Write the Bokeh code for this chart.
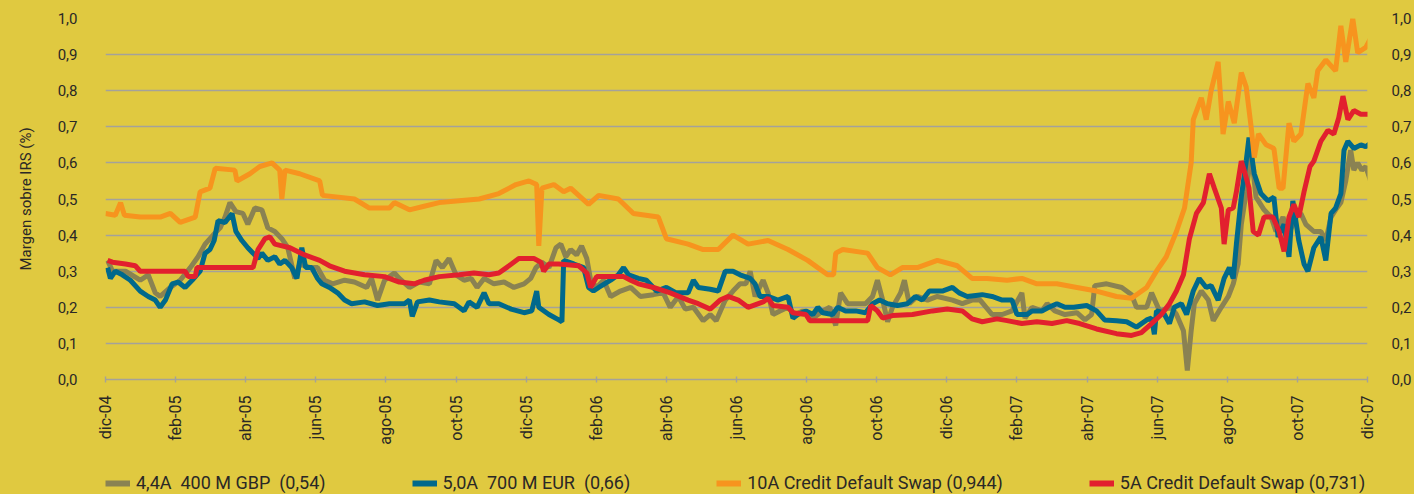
import math
from bokeh.plotting import figure
from bokeh.layouts import column
from bokeh.models import (Range1d, FixedTicker, CustomJSTickFormatter, LinearAxis,
                          Legend, LegendItem)
from bokeh.embed import file_html
from bokeh.resources import INLINE

# ---------------- data (x = months since dic-04) ----------------
month_ticks = [0, 2, 4, 6, 8, 10, 12, 14, 16, 18, 20, 22, 24, 26, 28, 30, 32, 34, 36]
month_labels = ["dic-04", "feb-05", "abr-05", "jun-05", "ago-05", "oct-05", "dic-05",
                "feb-06", "abr-06", "jun-06", "ago-06", "oct-06", "dic-06", "feb-07",
                "abr-07", "jun-07", "ago-07", "oct-07", "dic-07"]
y_ticks = [0.0, 0.1, 0.2, 0.3, 0.4, 0.5, 0.6, 0.7, 0.8, 0.9, 1.0]

series_labels = ["4,4A  400 M GBP  (0,54)", "5,0A  700 M EUR  (0,66)",
                 "10A Credit Default Swap (0,944)", "5A Credit Default Swap (0,731)"]

gbp_m = [0.06, 0.20, 0.57, 0.99, 1.22, 1.42, 1.56, 1.85, 2.13, 2.42, 2.64, 2.84, 3.07, 3.27,
         3.41, 3.55, 3.72, 3.92, 4.06, 4.26, 4.46, 4.63, 4.83, 5.03, 5.20, 5.40, 5.54, 5.83,
         6.05, 6.25, 6.48, 6.82, 7.10, 7.45, 7.59, 7.76, 7.96, 8.24, 8.38, 8.67, 8.95, 9.24,
         9.43, 9.61, 9.80, 10.00, 10.23, 10.43, 10.60, 10.80, 11.08, 11.37, 11.65, 11.94,
         12.13, 12.28, 12.45, 12.65, 12.85, 12.99, 13.13, 13.27, 13.44, 13.58, 13.73, 13.84,
         14.01, 14.21, 14.41, 14.69, 14.98, 15.26, 15.63, 15.91, 16.11, 16.34, 16.54, 16.77,
         17.05, 17.25, 17.42, 17.68, 17.90, 18.10, 18.27, 18.39, 18.53, 18.76, 18.90, 19.04,
         19.24, 19.47, 19.67, 19.89, 20.18, 20.46, 20.66, 20.83, 20.97, 21.17, 21.40, 21.68,
         21.88, 22.02, 22.17, 22.31, 22.45, 22.68, 22.79, 22.93, 23.16, 23.45, 23.73, 24.16,
         24.44, 24.72, 24.95, 25.29, 25.58, 25.86, 26.14, 26.23, 26.43, 26.71, 26.86, 27.08,
         27.37, 27.71, 27.94, 28.13, 28.22, 28.56, 28.99, 29.27, 29.41, 29.70, 29.84, 30.07,
         30.41, 30.55, 30.75, 30.86, 30.97, 31.06, 31.26, 31.46, 31.60, 31.83, 32.03, 32.17,
         32.31, 32.40, 32.54, 32.68, 32.82, 33.05, 33.25, 33.39, 33.59, 33.76, 33.96, 34.10,
         34.24, 34.47, 34.67, 34.81, 34.96, 35.09, 35.24, 35.38, 35.52, 35.61, 35.72, 35.84,
         35.95, 36.09]
gbp_v = [0.33, 0.30, 0.30, 0.275, 0.29, 0.24, 0.23, 0.255, 0.275, 0.31, 0.34, 0.375, 0.40, 0.42,
         0.45, 0.49, 0.465, 0.46, 0.43, 0.475, 0.47, 0.42, 0.41, 0.39, 0.365, 0.28, 0.32, 0.31,
         0.31, 0.275, 0.265, 0.275, 0.27, 0.255, 0.28, 0.22, 0.275, 0.295, 0.28, 0.255, 0.27, 0.265,
         0.33, 0.31, 0.335, 0.29, 0.275, 0.28, 0.255, 0.28, 0.265, 0.27, 0.255, 0.265,
         0.28, 0.31, 0.325, 0.31, 0.365, 0.375, 0.34, 0.36, 0.345, 0.37, 0.335, 0.275,
         0.255, 0.275, 0.23, 0.245, 0.255, 0.23, 0.235, 0.24, 0.20, 0.23, 0.195, 0.20,
         0.163, 0.18, 0.163, 0.22, 0.245, 0.265, 0.265, 0.30, 0.23, 0.275, 0.24, 0.18,
         0.19, 0.20, 0.18, 0.19, 0.17, 0.19, 0.20, 0.15, 0.24, 0.21, 0.21, 0.21,
         0.23, 0.275, 0.22, 0.16, 0.20, 0.24, 0.275, 0.21, 0.23, 0.22, 0.23, 0.22,
         0.21, 0.22, 0.22, 0.18, 0.18, 0.19, 0.24, 0.17, 0.20, 0.19, 0.21, 0.19,
         0.18, 0.185, 0.165, 0.18, 0.26, 0.265, 0.255, 0.235, 0.20, 0.20, 0.24, 0.19,
         0.20, 0.18, 0.135, 0.025, 0.135, 0.21, 0.245, 0.22, 0.163, 0.20, 0.23, 0.265,
         0.32, 0.43, 0.52, 0.63, 0.505, 0.47, 0.45, 0.41, 0.45, 0.405, 0.45, 0.46,
         0.43, 0.41, 0.41, 0.385, 0.45, 0.47, 0.49, 0.55, 0.635, 0.58, 0.60, 0.58,
         0.59, 0.55]

eur_m = [0.06, 0.14, 0.28, 0.48, 0.71, 0.99, 1.22, 1.42, 1.56, 1.71, 1.90, 2.07, 2.27, 2.47,
         2.70, 2.84, 2.98, 3.10, 3.21, 3.41, 3.61, 3.72, 3.89, 4.06, 4.21, 4.35, 4.46, 4.63,
         4.83, 4.97, 5.12, 5.31, 5.46, 5.60, 5.71, 5.88, 6.05, 6.17, 6.39, 6.62, 6.82, 7.02,
         7.39, 7.76, 8.10, 8.53, 8.67, 8.75, 8.90, 9.24, 9.52, 9.95, 10.23, 10.37, 10.60,
         10.80, 10.94, 11.22, 11.57, 11.94, 12.16, 12.30, 12.36, 12.65, 12.93, 13.02, 13.07,
         13.36, 13.64, 13.78, 13.92, 14.07, 14.41, 14.63, 14.78, 14.92, 15.20, 15.43, 15.72,
         16.00, 16.28, 16.62, 16.77, 16.91, 17.25, 17.48, 17.68, 17.90, 18.10, 18.39, 18.53,
         18.67, 18.90, 19.18, 19.47, 19.61, 19.75, 19.98, 20.18, 20.32, 20.46, 20.74, 20.89,
         21.11, 21.40, 21.68, 21.88, 22.08, 22.31, 22.59, 22.88, 23.10, 23.30, 23.50, 23.87,
         24.16, 24.35, 24.58, 25.01, 25.29, 25.58, 25.86, 26.00, 26.29, 26.43, 26.71, 26.91,
         27.14, 27.37, 27.62, 27.99, 28.27, 28.50, 28.84, 29.13, 29.41, 29.70, 29.84, 29.92,
         29.98, 30.18, 30.35, 30.49, 30.69, 30.84, 31.03, 31.20, 31.40, 31.54, 31.74, 31.91,
         32.06, 32.17, 32.26, 32.40, 32.54, 32.62, 32.77, 32.96, 33.16, 33.33, 33.45, 33.62,
         33.76, 33.87, 34.04, 34.19, 34.30, 34.47, 34.67, 34.81, 34.96, 35.09, 35.24, 35.33,
         35.44, 35.61, 35.81, 35.95, 36.09]
eur_v = [0.31, 0.28, 0.30, 0.29, 0.275, 0.245, 0.23, 0.22, 0.20, 0.22, 0.265, 0.27, 0.255, 0.275,
         0.30, 0.35, 0.36, 0.385, 0.44, 0.435, 0.46, 0.41, 0.385, 0.365, 0.35, 0.335, 0.35, 0.33,
         0.34, 0.32, 0.33, 0.31, 0.28, 0.365, 0.31, 0.31, 0.28, 0.265, 0.255, 0.24, 0.22, 0.21,
         0.215, 0.205, 0.21, 0.21, 0.22, 0.175, 0.215, 0.22, 0.215, 0.21, 0.19, 0.215, 0.20,
         0.24, 0.21, 0.21, 0.195, 0.185, 0.19, 0.245, 0.20, 0.18, 0.165, 0.16, 0.33,
         0.32, 0.31, 0.255, 0.245, 0.255, 0.275, 0.29, 0.31, 0.29, 0.28, 0.275, 0.245,
         0.255, 0.24, 0.24, 0.275, 0.255, 0.25, 0.245, 0.30, 0.30, 0.29, 0.28, 0.265,
         0.23, 0.23, 0.22, 0.23, 0.17, 0.18, 0.19, 0.18, 0.20, 0.185, 0.18, 0.20,
         0.19, 0.19, 0.185, 0.21, 0.22, 0.21, 0.205, 0.21, 0.23, 0.22, 0.245, 0.245,
         0.255, 0.24, 0.23, 0.235, 0.23, 0.22, 0.22, 0.18, 0.18, 0.19, 0.19, 0.20,
         0.21, 0.20, 0.20, 0.205, 0.19, 0.165, 0.163, 0.16, 0.145, 0.165, 0.17, 0.125,
         0.19, 0.185, 0.155, 0.20, 0.21, 0.18, 0.245, 0.28, 0.255, 0.26, 0.22, 0.28,
         0.31, 0.28, 0.375, 0.505, 0.605, 0.67, 0.57, 0.515, 0.495, 0.505, 0.395, 0.43,
         0.34, 0.495, 0.385, 0.32, 0.30, 0.365, 0.395, 0.33, 0.46, 0.475, 0.515, 0.635,
         0.66, 0.64, 0.65, 0.645, 0.655]

cds10_m = [0.00, 0.28, 0.43, 0.54, 0.99, 1.56, 1.85, 2.13, 2.56, 2.70, 2.98, 3.13, 3.69, 3.75,
           4.12, 4.40, 4.75, 4.97, 5.03, 5.12, 5.54, 6.11, 6.19, 7.10, 7.53, 8.10, 8.24, 8.67,
           9.09, 9.52, 10.66, 11.22, 11.71, 12.08, 12.30, 12.36, 12.45, 12.79, 13.07, 13.27,
           13.78, 14.07, 14.63, 15.06, 15.77, 16.00, 16.62, 17.05, 17.48, 17.90, 18.33, 18.90,
           19.47, 20.03, 20.60, 20.77, 20.83, 21.03, 21.74, 22.02, 22.39, 22.73, 23.16, 23.73,
           24.30, 24.72, 25.15, 25.72, 26.14, 26.57, 27.14, 27.71, 28.27, 28.84, 29.27, 29.70,
           29.98, 30.26, 30.55, 30.78, 30.97, 31.03, 31.26, 31.40, 31.54, 31.74, 31.88, 32.03,
           32.20, 32.40, 32.54, 32.68, 32.77, 32.89, 33.11, 33.33, 33.48, 33.59, 33.76, 33.90,
           34.10, 34.30, 34.47, 34.58, 34.81, 35.09, 35.24, 35.38, 35.58, 35.72, 35.95, 36.09]
cds10_v = [0.46, 0.455, 0.49, 0.455, 0.45, 0.45, 0.46, 0.435, 0.45, 0.52, 0.53, 0.585, 0.58, 0.55,
           0.57, 0.59, 0.60, 0.58, 0.50, 0.58, 0.57, 0.55, 0.51, 0.50, 0.475, 0.475, 0.49, 0.47,
           0.48, 0.49, 0.50, 0.515, 0.54, 0.55, 0.54, 0.37, 0.53, 0.54, 0.52, 0.53,
           0.485, 0.51, 0.50, 0.46, 0.45, 0.39, 0.375, 0.36, 0.36, 0.40, 0.375, 0.385,
           0.36, 0.33, 0.29, 0.29, 0.35, 0.36, 0.35, 0.31, 0.29, 0.31, 0.31, 0.33,
           0.315, 0.28, 0.28, 0.275, 0.28, 0.265, 0.265, 0.255, 0.245, 0.23, 0.225, 0.255,
           0.30, 0.34, 0.41, 0.475, 0.60, 0.72, 0.78, 0.72, 0.80, 0.88, 0.68, 0.77,
           0.71, 0.85, 0.81, 0.70, 0.615, 0.68, 0.65, 0.64, 0.53, 0.53, 0.71, 0.66,
           0.68, 0.82, 0.78, 0.855, 0.885, 0.855, 0.98, 0.88, 1.0, 0.905, 0.92, 0.945]

cds5_m = [0.06, 0.20, 0.57, 0.85, 0.99, 2.27, 2.36, 2.56, 2.61, 4.21, 4.35, 4.55, 4.69, 4.83,
          5.26, 5.68, 6.11, 6.39, 6.82, 7.39, 7.96, 8.38, 8.81, 9.09, 9.52, 10.09, 10.51,
          10.94, 11.22, 11.51, 11.79, 12.22, 12.42, 12.50, 12.65, 12.93, 13.50, 13.73, 13.84,
          14.01, 14.78, 14.98, 15.20, 15.63, 16.11, 16.62, 16.91, 17.25, 17.53, 17.76, 18.05,
          18.33, 18.76, 18.90, 19.04, 19.47, 19.61, 19.98, 20.09, 21.74, 21.83, 22.02, 22.17,
          22.45, 23.02, 23.59, 24.01, 24.44, 24.72, 25.01, 25.43, 25.72, 26.14, 26.57, 27.00,
          27.42, 27.79, 28.27, 28.84, 29.27, 29.55, 29.84, 30.12, 30.35, 30.55, 30.75, 30.92,
          31.12, 31.32, 31.49, 31.63, 31.83, 31.91, 32.03, 32.17, 32.26, 32.40, 32.48, 32.62,
          32.74, 32.89, 33.05, 33.30, 33.48, 33.62, 33.76, 33.90, 34.04, 34.19, 34.36, 34.47,
          34.67, 34.87, 35.04, 35.18, 35.30, 35.44, 35.61, 35.81, 36.09]
cds5_v = [0.33, 0.325, 0.32, 0.315, 0.30, 0.30, 0.285, 0.285, 0.31, 0.31, 0.36, 0.39, 0.395, 0.375,
          0.365, 0.345, 0.33, 0.315, 0.30, 0.29, 0.285, 0.27, 0.265, 0.275, 0.285, 0.29, 0.295,
          0.29, 0.295, 0.315, 0.335, 0.335, 0.325, 0.30, 0.32, 0.32, 0.315, 0.295, 0.255,
          0.285, 0.285, 0.275, 0.265, 0.255, 0.24, 0.22, 0.21, 0.195, 0.22, 0.23, 0.22,
          0.20, 0.215, 0.225, 0.205, 0.20, 0.185, 0.18, 0.163, 0.163, 0.205, 0.19, 0.17,
          0.177, 0.18, 0.19, 0.195, 0.19, 0.168, 0.16, 0.168, 0.163, 0.155, 0.16, 0.155,
          0.163, 0.155, 0.14, 0.127, 0.122, 0.13, 0.155, 0.18, 0.21, 0.245, 0.29, 0.39,
          0.46, 0.49, 0.57, 0.53, 0.475, 0.375, 0.47, 0.475, 0.52, 0.605, 0.58, 0.53,
          0.41, 0.40, 0.45, 0.45, 0.41, 0.355, 0.45, 0.485, 0.45, 0.52, 0.59, 0.605,
          0.66, 0.69, 0.68, 0.725, 0.785, 0.72, 0.745, 0.735, 0.735]

# ---------------- styling ----------------
BG = "#E0C940"
GRID = "#A4A29A"
TEXT = "#2A2826"
FONT = "Roboto"
COLORS = ["#8A8252", "#00698C", "#F7941E", "#E2202E"]
SERIES = [(gbp_m, gbp_v), (eur_m, eur_v), (cds10_m, cds10_v), (cds5_m, cds5_v)]

p = figure(width=1414, height=470, output_backend="svg", toolbar_location=None, tools="",
           x_range=Range1d(0, 36), y_range=Range1d(0, 1.0),
           min_border_left=105, min_border_right=42, min_border_top=18, min_border_bottom=91,
           background_fill_color=BG, border_fill_color=BG, outline_line_color=None)

for (xs, ys), c in zip(SERIES, COLORS):
    p.line(xs, ys, line_color=c, line_width=5)

# grid
p.xgrid.grid_line_color = None
p.ygrid.ticker = FixedTicker(ticks=y_ticks)
p.ygrid.grid_line_color = GRID
p.ygrid.grid_line_width = 1.6

# x axis
xa = p.xaxis[0]
xa.ticker = FixedTicker(ticks=month_ticks)
xa.major_label_overrides = {t: l for t, l in zip(month_ticks, month_labels)}
xa.major_label_orientation = math.pi / 2
xa.axis_line_color = GRID
xa.axis_line_width = 1.6
xa.major_tick_line_color = GRID
xa.major_tick_line_width = 1.4
xa.major_tick_in = 3
xa.major_tick_out = 3
xa.minor_tick_line_color = None
xa.major_label_standoff = 13
xa.major_label_text_font = FONT
xa.major_label_text_font_size = "16px"
xa.major_label_text_color = TEXT

fmt = CustomJSTickFormatter(code="return tick.toFixed(1).replace('.', ',');")

ya = p.yaxis[0]
ya.ticker = FixedTicker(ticks=y_ticks)
ya.formatter = fmt
ya.axis_line_color = None
ya.major_tick_line_color = None
ya.minor_tick_line_color = None
ya.major_label_standoff = 22
ya.major_label_text_font = FONT
ya.major_label_text_font_size = "15px"
ya.major_label_text_color = TEXT
ya.axis_label = "Margen sobre IRS (%)"
ya.axis_label_text_font = FONT
ya.axis_label_text_font_size = "15px"
ya.axis_label_text_font_style = "normal"
ya.axis_label_text_color = TEXT
ya.axis_label_standoff = 20

ra = LinearAxis(ticker=FixedTicker(ticks=y_ticks), formatter=fmt)
ra.axis_line_color = None
ra.major_tick_line_color = None
ra.minor_tick_line_color = None
ra.major_label_standoff = 18
ra.major_label_text_font = FONT
ra.major_label_text_font_size = "15px"
ra.major_label_text_color = TEXT
p.add_layout(ra, "right")

# legend strip below the chart (its lines sit outside its own visible y range)
pl = figure(width=1414, height=24, output_backend="svg", toolbar_location=None, tools="",
            x_range=Range1d(0, 36), y_range=Range1d(5, 6), x_axis_type=None, y_axis_type=None,
            min_border_left=105, min_border_right=42, min_border_top=0, min_border_bottom=0,
            background_fill_color=BG, border_fill_color=BG, outline_line_color=None)
legend_renderers = [pl.line(xs, ys, line_color=c, line_width=6)
                    for (xs, ys), c in zip(SERIES, COLORS)]
legend = Legend(items=[LegendItem(label=l, renderers=[r])
                       for l, r in zip(series_labels, legend_renderers)],
                orientation="horizontal", location=(0, 1),
                background_fill_alpha=0, border_line_color=None,
                margin=0, padding=0, spacing=86,
                glyph_width=25, glyph_height=20, label_standoff=6, label_height=20,
                label_text_font=FONT, label_text_font_size="18px", label_text_color=TEXT)
pl.add_layout(legend)

layout = column(p, pl, spacing=0, styles={"background-color": BG})
open("out.html", "w").write(file_html(layout, INLINE))
